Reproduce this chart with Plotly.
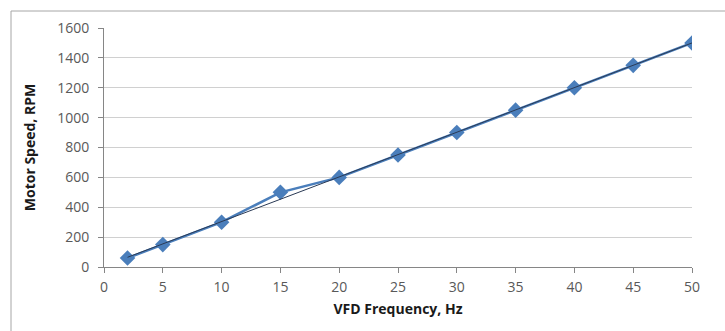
import plotly.graph_objects as go

freq_hz = [2, 5, 10, 15, 20, 25, 30, 35, 40, 45, 50]
speed_rpm = [60, 150, 300, 500, 600, 750, 900, 1050, 1200, 1350, 1500]
trend_x = [2, 50]
trend_y = [65, 1500]

x_ticks = [0, 5, 10, 15, 20, 25, 30, 35, 40, 45, 50]
y_ticks = [0, 200, 400, 600, 800, 1000, 1200, 1400, 1600]

fig = go.Figure()
fig.add_trace(go.Scatter(
    x=freq_hz, y=speed_rpm, mode="lines+markers",
    line=dict(color="#4a7ebb", width=2.5),
    marker=dict(symbol="diamond", size=12, color="#4a7ebb"),
    showlegend=False,
))
fig.add_trace(go.Scatter(
    x=trend_x, y=trend_y, mode="lines",
    line=dict(color="#2a3a55", width=1),
    showlegend=False,
))

font_family = "Open Sans, Liberation Sans, sans-serif"
fig.update_layout(
    width=725, height=331,
    margin=dict(l=104, r=33, t=28, b=64),
    paper_bgcolor="white", plot_bgcolor="white",
    font=dict(family=font_family, color="#595959", size=14),
    xaxis=dict(
        range=[0, 50], tickvals=x_ticks, ticktext=[str(v) for v in x_ticks],
        showgrid=False, zeroline=False,
        showline=True, linecolor="#868686", linewidth=1,
        ticks="outside", ticklen=5, tickcolor="#868686",
        tickfont=dict(size=14, color="#595959"), ticklabelstandoff=2,
        title=dict(text="<b>VFD Frequency, Hz</b>", font=dict(size=14, color="#1a1a1a"), standoff=9),
    ),
    yaxis=dict(
        range=[0, 1600], tickvals=y_ticks, ticktext=[str(v) for v in y_ticks],
        showgrid=True, gridcolor="#d0d0d0", gridwidth=1, zeroline=False,
        showline=True, linecolor="#868686", linewidth=1,
        ticks="outside", ticklen=5, tickcolor="#868686",
        tickfont=dict(size=14, color="#595959"), ticklabelstandoff=6,
        title=dict(text="<b>Motor Speed, RPM</b>", font=dict(size=14, color="#1a1a1a"), standoff=18),
    ),
    shapes=[dict(
        type="rect", xref="paper", yref="paper",
        x0=(11 - 104) / 588, x1=1.2, y0=-0.5, y1=(267 - 11) / 239,
        line=dict(color="#a6a6a6", width=1), layer="below",
    )],
)

fig.write_html("out.html")
